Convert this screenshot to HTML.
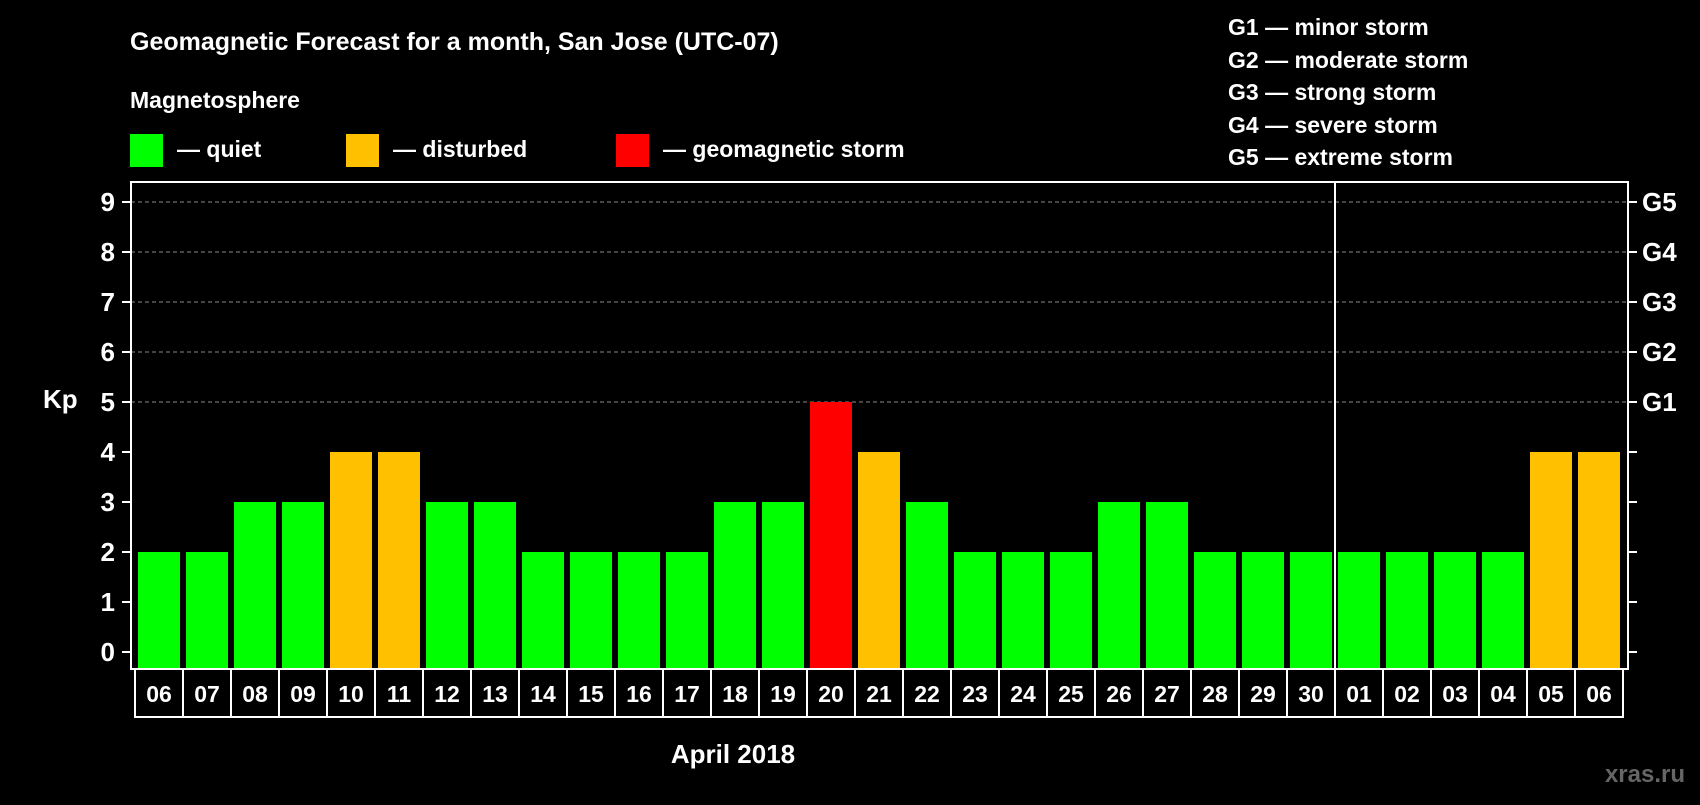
<!DOCTYPE html>
<html><head><meta charset="utf-8"><style>
body{margin:0;background:#000;width:1700px;height:800px;overflow:hidden}
svg text{font-family:"Liberation Sans",Arial,sans-serif;font-weight:bold;fill:#fff}
</style></head><body>
<svg id="c" width="1700" height="800">
<text x="130" y="50" font-size="25">Geomagnetic Forecast for a month, San Jose (UTC-07)</text>
<text x="130" y="108" font-size="23">Magnetosphere</text>
<g><rect x="130" y="134" width="33" height="33" fill="#00ff00"/><text x="177" y="157" font-size="23">— quiet</text></g>
<g><rect x="346" y="134" width="33" height="33" fill="#ffc000"/><text x="393" y="157" font-size="23">— disturbed</text></g>
<g><rect x="616" y="134" width="33" height="33" fill="#ff0000"/><text x="663" y="157" font-size="23">— geomagnetic storm</text></g>
<g font-size="23">
<text x="1228" y="35">G1 — minor storm</text>
<text x="1228" y="68">G2 — moderate storm</text>
<text x="1228" y="100">G3 — strong storm</text>
<text x="1228" y="133">G4 — severe storm</text>
<text x="1228" y="165">G5 — extreme storm</text>
</g>
<text x="43" y="408" font-size="26">Kp</text>
<text x="733" y="763" font-size="26" text-anchor="middle">April 2018</text>
<text x="1685" y="782" font-size="24" text-anchor="end" style="fill:#666">xras.ru</text>
<g id="plot"></g>
</svg>
<script>
const days=["06","07","08","09","10","11","12","13","14","15","16","17","18","19","20","21","22","23","24","25","26","27","28","29","30","01","02","03","04","05","06"];
const kp=[2,2,3,3,4,4,3,3,2,2,2,2,3,3,5,4,3,2,2,2,3,3,2,2,2,2,2,2,2,4,4];
const yTicks=[0,1,2,3,4,5,6,7,8,9];
const gLabels=["G1","G2","G3","G4","G5"];
const NS="http://www.w3.org/2000/svg";
const g=document.getElementById('plot');
const L=131,R=1628,T=182,B=669,cell0=135,pitch=48;
const y=v=>652-v*50;
const x=i=>cell0+i*pitch;
function mk(t,a){const e=document.createElementNS(NS,t);for(const k in a)e.setAttribute(k,a[k]);g.appendChild(e);return e;}
yTicks.forEach(v=>{
  if(v>=5){const l=mk('line',{x1:L,x2:R,y1:y(v),y2:y(v),stroke:'#888','stroke-dasharray':'4,3'});}
  mk('line',{x1:L-9,x2:L,y1:y(v),y2:y(v),stroke:'#fff','stroke-width':2});
  mk('line',{x1:R,x2:R+9,y1:y(v),y2:y(v),stroke:'#fff','stroke-width':2});
  const t=mk('text',{x:L-16,y:y(v)+9,'font-size':26,'text-anchor':'end'});t.textContent=v;
  
});
gLabels.forEach((s,i)=>{const t=mk('text',{x:1642,y:y(5+i)+9,'font-size':26});t.textContent=s;
  });
kp.forEach((v,i)=>{
  const c=v>=5?'#ff0000':v>=4?'#ffc000':'#00ff00';
  const r=mk('rect',{x:x(i)+3,y:y(v),width:42,height:y(0)-y(v)+17,fill:c});
  
  mk('rect',{x:x(i),y:B,width:pitch,height:48,fill:'none',stroke:'#fff','stroke-width':2});
  const t=mk('text',{x:x(i)+24,y:B+33,'font-size':23,'text-anchor':'middle'});t.textContent=days[i];
  
});
const f=mk('rect',{x:L,y:T,width:R-L,height:B-T,fill:'none',stroke:'#fff','stroke-width':2});

const sep=days.indexOf("01");
mk('line',{x1:x(sep),x2:x(sep),y1:T,y2:B,stroke:'#fff','stroke-width':2});
</script>
</body></html>
